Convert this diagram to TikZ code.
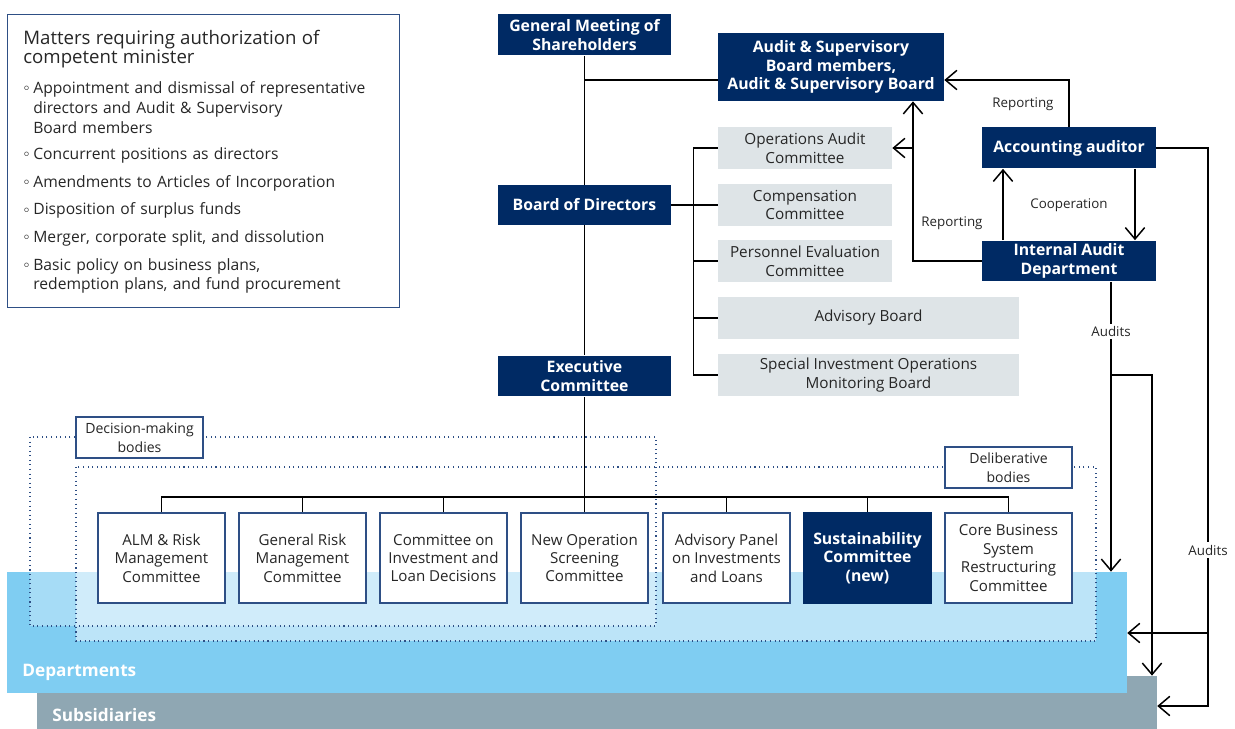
\documentclass[tikz,border=0pt]{standalone}
\usepackage{fontspec}
\setmainfont{Open Sans}
\usetikzlibrary{arrows.meta}
\definecolor{navy}{HTML}{002A64}
\definecolor{boxgrey}{HTML}{DEE4E7}
\definecolor{deptblue}{HTML}{7FCDF2}
\definecolor{subgrey}{HTML}{8FA7B3}
\definecolor{frame}{HTML}{2E4F85}
\definecolor{txt}{HTML}{262626}
\newcommand{\mitem}[2][4.4pt]{\par\vspace{#1}\noindent
  \makebox[5.7pt][l]{\raisebox{1.6pt}{\tiny$\circ$}}\parbox[t]{7cm}{\raggedright #2\strut}}

\begin{document}
\begin{tikzpicture}[x=0.02cm,y=-0.02cm,
    darkbox/.style={fill=navy, text=white, font=\fontsize{9}{10.5}\selectfont\bfseries,
      align=center, inner sep=0pt},
    greybox/.style={fill=boxgrey, text=txt, font=\fontsize{8.7}{10.6}\selectfont,
      align=center, inner sep=0pt, minimum height=0.84cm},
    cmte/.style={draw=frame, fill=white, line width=0.6pt, text=txt,
      font=\fontsize{8.6}{10.5}\selectfont, align=center,
      minimum width=2.54cm, minimum height=1.8cm, inner sep=0pt},
    tagbox/.style={draw=frame, fill=white, line width=0.6pt, text=txt,
      font=\fontsize{8}{10.6}\selectfont, align=center,
      minimum width=2.54cm, minimum height=0.82cm, inner sep=0pt},
    group/.style={draw=frame, dotted, line width=0.6pt},
    band/.style={inner sep=0pt, minimum width=22.4cm},
    bandtext/.style={text=white, font=\fontsize{9.8}{11}\selectfont\bfseries, anchor=west,
      inner sep=0pt},
    lbl/.style={font=\fontsize{7.6}{9}\selectfont, text=txt, fill=white, inner sep=1.5pt},
    conn/.style={line width=0.85pt},
    arr/.style={conn, -{Straight Barb[length=6.5pt, width=11pt]}}]
  \useasboundingbox (0,0) rectangle (1235,729);

  % matters box
  \node[draw=frame, line width=0.6pt, minimum width=7.84cm, minimum height=5.86cm,
    anchor=north west, inner sep=0pt] (matters) at (7,14) {};
  \node[anchor=north west, inner sep=0pt, text width=7.5cm, align=left, text=txt,
    font=\fontsize{8.9}{11.3}\selectfont] (mattertext) at (23,30)
    {{\fontsize{10.6}{10.8}\selectfont Matters requiring authorization of\\
      competent minister\par}\vspace{1.5pt}
     \mitem{Appointment and dismissal of representative\\directors and Audit \& Supervisory\\Board members}
     \mitem[2.6pt]{Concurrent positions as directors}
     \mitem{Amendments to Articles of Incorporation}
     \mitem{Disposition of surplus funds}
     \mitem{Merger, corporate split, and dissolution}
     \mitem{Basic policy on business plans,\\redemption plans, and fund procurement}};

  % bands
  \node[band, fill=subgrey, minimum height=1.06cm] (sub) at (597,702.5) {};
  \node[band, fill=deptblue, minimum height=2.42cm] (dept) at (567,632.5) {};
  \node[bandtext] at (22,672) {Departments};
  \node[bandtext] at (52,715) {Subsidiaries};

  % groups
  \fill[white, fill opacity=0.31] (30,437) rectangle (656,626);
  \fill[white, fill opacity=0.48] (76,467) rectangle (1096,641);
  \draw[group] (30,437) rectangle (656,626);
  \draw[group] (76,467) rectangle (1096,641);

  % top of the chart
  \node[darkbox, minimum width=3.46cm, minimum height=0.82cm] (gms) at (584.5,35)
    {General Meeting of\\Shareholders};
  \node[darkbox, minimum width=3.46cm, minimum height=0.8cm] (bod) at (584.5,205)
    {Board of Directors};
  \node[darkbox, minimum width=3.46cm, minimum height=0.82cm] (exec) at (584.5,376)
    {Executive\\Committee};
  \node[darkbox, minimum width=4.52cm, minimum height=1.36cm] (asb) at (831,67)
    {Audit \& Supervisory\\Board members,\\Audit \& Supervisory Board};
  \node[darkbox, minimum width=3.48cm, minimum height=0.82cm] (acc) at (1069,148)
    {Accounting auditor};
  \node[darkbox, minimum width=3.48cm, minimum height=0.82cm] (iad) at (1069,261)
    {Internal Audit\\Department};

  \node[greybox, minimum width=3.48cm] (ops) at (805,148) {Operations Audit\\Committee};
  \node[greybox, minimum width=3.48cm] (comp) at (805,205) {Compensation\\Committee};
  \node[greybox, minimum width=3.48cm] (pers) at (805,261) {Personnel Evaluation\\Committee};
  \node[greybox, minimum width=6.02cm] (adv) at (868.5,318) {Advisory Board};
  \node[greybox, minimum width=6.02cm] (spec) at (868.5,375)
    {Special Investment Operations\\Monitoring Board};

  \draw[conn] (gms) -- (bod);
  \draw[conn] (bod) -- (exec);
  \draw[conn] (gms.south |- 0,80) -- (asb.west |- 0,80);
  \draw[conn] (bod.east) -- (comp.west);
  \draw[conn] (ops.west) -- +(-24,0) |- (spec.west);
  \draw[conn] (pers.west) -- +(-24,0);
  \draw[conn] (adv.west) -- +(-24,0);

  % audit arrows
  \coordinate (repx) at (913,148);
  \draw[arr] (acc.north) |- (asb.east |- 0,80);
  \draw[arr] (iad.west) -| (asb.south -| repx);
  \draw[arr] (repx) -- (ops.east);
  \draw[arr] (iad.north -| 1003,0) -- (acc.south -| 1003,0);
  \draw[arr] (acc.south -| 1135,0) -- (iad.north -| 1135,0);
  \node[lbl] (rep1) at (1023,104) {Reporting};
  \node[lbl] (rep2) at (952,223) {Reporting};
  \node[lbl] (coop) at (1069,205) {Cooperation};

  \coordinate (split) at (1111,375);
  \draw[arr] (iad.south -| split) -- node[lbl, pos=0.172] (aud1) {Audits} (dept.north -| split);
  \draw[arr] (split) -| (sub.north -| 1152,0);
  \coordinate (rbot) at (1208,706);
  \coordinate (rmid) at (1208,633);
  \draw[arr] (acc.east) -| (rbot) -- (sub.east |- rbot);
  \draw[arr] (rmid) -- (dept.east |- rmid);
  \node[lbl] (aud2) at (1208,550) {Audits};

  % committees
  \draw[conn] (exec) -- (584.5,513);
  \draw[conn] (161.5,513) -- (161.5,497) -| (1008.5,513);
  \foreach \x in {302.5,443.5,726.5,867.5}
    \draw[conn] (\x,497) -- (\x,513);
  \node[cmte] (alm) at (161.5,558) {ALM \& Risk\\Management\\Committee};
  \node[cmte] (grm) at (302.5,558) {General Risk\\Management\\Committee};
  \node[cmte] (inv) at (443.5,558) {Committee on\\Investment and\\Loan Decisions};
  \node[cmte] (newop) at (584.5,558) {New Operation\\Screening\\Committee};
  \node[cmte] (panel) at (726.5,558) {Advisory Panel\\on Investments\\and Loans};
  \node[cmte, draw=navy, fill=navy, text=white, font=\fontsize{9}{10.5}\selectfont\bfseries]
    (sust) at (867.5,558) {Sustainability\\Committee\\(new)};
  \node[cmte] (core) at (1008.5,558) {Core Business\\System\\Restructuring\\Committee};

  \node[tagbox] (decide) at (139.5,437.5) {Decision-making\\bodies};
  \node[tagbox] (delib) at (1008.5,467.5) {Deliberative\\bodies};
\end{tikzpicture}
\end{document}
